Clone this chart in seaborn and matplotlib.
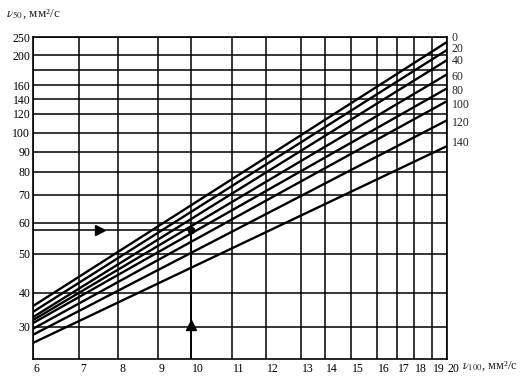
import numpy as np
import pandas as pd
import matplotlib
matplotlib.use("Agg")
import matplotlib.pyplot as plt
import matplotlib.transforms as mtrans
import seaborn as sns

# ---------------- data ----------------
vi_labels = ["0", "20", "40", "60", "80", "100", "120", "140"]
x_ends = [6, 20]
v50_at_6 = [35.8, 34.1, 32.6, 31.8, 31.0, 29.7, 28.7, 27.4]
v50_at_20 = [235, 213, 193, 174, 155, 137, 113, 93]
vi_label_y = [248, 216, 192, 170, 151, 132, 110, 94.5]

x_ticks = list(range(6, 21))
y_ticks = [30, 40, 50, 60, 70, 80, 90, 100, 120, 140, 160, 200, 250]
y_extra_grid = [180]

example_v100 = 10
example_v50 = 57.7
arrow_h_x = 7.55
arrow_v_y = 30.5

# ---------------- scale (nomogram grid spacing) ----------------
Y_SCALE_VAL = np.array([25, 30, 40, 50, 60, 70, 80, 90, 100, 120, 140, 160, 180, 200, 250], float)
Y_SCALE_POS = np.array([359, 327, 293, 254, 223, 195, 172, 152, 133, 114, 99, 85, 70, 55, 37], float)
X_SCALE_VAL = np.arange(6, 21, dtype=float)
X_SCALE_POS = np.array([33, 79, 118, 158, 191, 232, 266, 301, 325, 351, 377, 397, 414, 432, 447], float)

ylog = np.log10(Y_SCALE_VAL)
yneg = -Y_SCALE_POS


def yfwd(v):
    v = np.clip(np.asarray(v, float), 1e-6, None)
    return np.interp(np.log10(v), ylog, yneg)


def yinv(p):
    return 10 ** np.interp(np.asarray(p, float), yneg, ylog)


def xfwd(x):
    return np.interp(np.asarray(x, float), X_SCALE_VAL, X_SCALE_POS)


def xinv(p):
    return np.interp(np.asarray(p, float), X_SCALE_POS, X_SCALE_VAL)


# ---------------- dataframe ----------------
rows = []
for lab, a, b in zip(vi_labels, v50_at_6, v50_at_20):
    rows.append({"VI": lab, "v100": x_ends[0], "v50": a})
    rows.append({"VI": lab, "v100": x_ends[1], "v50": b})
df = pd.DataFrame(rows)

sns.set_theme(style="white")
plt.rcParams["font.family"] = ["Liberation Serif", "DejaVu Serif"]
plt.rcParams["mathtext.fontset"] = "stix"

W, H = 526, 381
fig = plt.figure(figsize=(W / 100, H / 100), dpi=100)
ax = fig.add_axes([33 / W, 1 - 359 / H, (447 - 33) / W, (359 - 37) / H])

ax.set_xscale("function", functions=(xfwd, xinv))
ax.set_yscale("function", functions=(yfwd, yinv))
ax.set_xlim(6, 20)
ax.set_ylim(25, 250)

# grid
for xv in x_ticks:
    ax.axvline(xv, color="black", lw=1.1, zorder=1)
for yv in y_ticks + y_extra_grid:
    ax.axhline(yv, color="black", lw=1.1, zorder=1)

sns.lineplot(data=df, x="v100", y="v50", hue="VI", units="VI", estimator=None,
             palette=["black"] * len(vi_labels), legend=False, lw=1.7, ax=ax,
             zorder=3)

# example path with arrows
ax.plot([6, example_v100], [example_v50, example_v50], color="black", lw=1.1, zorder=3)
ax.plot([example_v100, example_v100], [25, example_v50], color="black", lw=1.3, zorder=3)
ax.plot([arrow_h_x], [example_v50], marker=">", color="black", ms=7, zorder=4)
ax.plot([example_v100], [arrow_v_y], marker="^", color="black", ms=7, zorder=4)
ax.plot([example_v100], [example_v50], marker="o", color="black", ms=4.5, zorder=4)

# right-hand VI labels
for lab, yl in zip(vi_labels, vi_label_y):
    ax.annotate(lab, xy=(20, yl), xytext=(3.5, 0), textcoords="offset points",
                ha="left", va="center", fontsize=8.5, annotation_clip=False)

ax.set_xticks(x_ticks)
ax.set_xticklabels([str(v) for v in x_ticks], fontsize=8.5, ha="left")
ax.set_yticks(y_ticks)
ax.set_yticklabels([str(v) for v in y_ticks], fontsize=8.5)
ax.minorticks_off()
ax.tick_params(axis="both", length=0, colors="black")
ax.tick_params(axis="x", pad=3)
ax.tick_params(axis="y", pad=2)
offset = mtrans.ScaledTranslation(1 / 100, 0, fig.dpi_scale_trans)
for lab in ax.get_xticklabels():
    lab.set_transform(lab.get_transform() + offset)

for s in ax.spines.values():
    s.set_color("black")
    s.set_linewidth(1.2)
ax.set_xlabel("")
ax.set_ylabel("")

fig.text(6 / W, 1 - 14 / H, r"$\nu_{50}$, мм²/с", fontsize=9.5, ha="left", va="center")
fig.text(462 / W, 1 - 366 / H, r"$\nu_{100}$, мм²/с", fontsize=9, ha="left", va="center")

fig.savefig("out.png", dpi=100)
